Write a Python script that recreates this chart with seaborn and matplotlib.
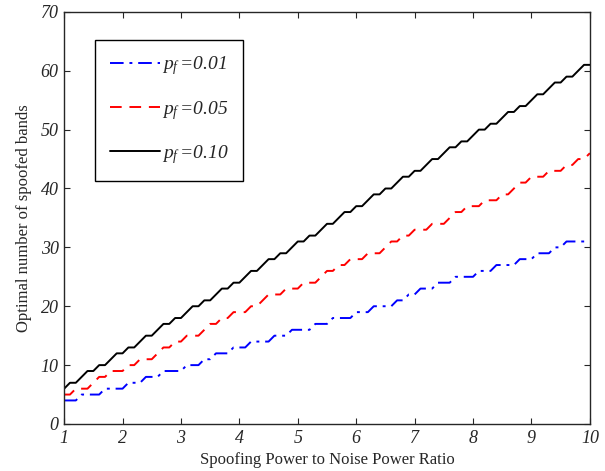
# Optimal number of spoofed bands vs spoofing power to noise power ratio
import numpy as np
import pandas as pd
import seaborn as sns
import matplotlib.pyplot as plt

# x grid (step 0.1 from 1 to 10)
snr = np.round(np.arange(1.0, 10.01, 0.1), 1)

# values, one row per unit of x
bands_001 = [4, 4, 4, 5, 5, 5, 5, 6, 6, 6,
             6, 7, 7, 7, 8, 8, 8, 9, 9, 9,
             9, 10, 10, 10, 11, 11, 12, 12, 12, 13,
             13, 13, 14, 14, 14, 14, 15, 15, 15, 16,
             16, 16, 16, 17, 17, 17, 18, 18, 18, 18,
             19, 19, 19, 20, 20, 20, 20, 21, 21, 22,
             22, 23, 23, 23, 24, 24, 24, 25, 25, 25,
             25, 26, 26, 26, 27, 27, 27, 27, 28, 28,
             28, 29, 29, 29, 30, 30, 31, 31, 31, 31, 31]
bands_005 = [5, 5, 6, 6, 6, 7, 8, 8, 9, 9,
             9, 10, 10, 11, 11, 11, 12, 13, 13, 14,
             14, 15, 15, 15, 16, 17, 17, 18, 18, 19,
             19, 19, 20, 20, 21, 22, 22, 22, 23, 23,
             23, 24, 24, 24, 25, 26, 26, 27, 27, 28,
             28, 28, 29, 29, 29, 30, 31, 31, 32, 32,
             33, 33, 33, 34, 34, 34, 35, 36, 36, 37,
             37, 37, 38, 38, 38, 39, 39, 40, 41, 41,
             42, 42, 42, 43, 43, 43, 44, 44, 45, 45, 46]
bands_010 = [6, 7, 7, 8, 9, 9, 10, 10, 11, 12,
             12, 13, 13, 14, 15, 15, 16, 17, 17, 18,
             18, 19, 20, 20, 21, 21, 22, 23, 23, 24,
             24, 25, 26, 26, 27, 28, 28, 29, 29, 30,
             31, 31, 32, 32, 33, 34, 34, 35, 36, 36,
             37, 37, 38, 39, 39, 40, 40, 41, 42, 42,
             43, 43, 44, 45, 45, 46, 47, 47, 48, 48,
             49, 50, 50, 51, 51, 52, 53, 53, 54, 54,
             55, 56, 56, 57, 58, 58, 59, 59, 60, 61, 61]

labels = [r'$p_f\,$=0.01', r'$p_f\,$=0.05', r'$p_f\,$=0.10']

sns.set_style('ticks')
plt.rcParams['font.family'] = ['Liberation Serif', 'DejaVu Serif']
plt.rcParams['mathtext.fontset'] = 'custom'
plt.rcParams['mathtext.it'] = 'Liberation Serif:italic'
plt.rcParams['mathtext.rm'] = 'Liberation Serif'
plt.rcParams['xtick.direction'] = 'in'
plt.rcParams['ytick.direction'] = 'in'

fig = plt.figure(figsize=(6.05, 4.71), dpi=100)
ax = fig.add_axes([0.106, 0.0998, 0.869, 0.875])

df = pd.DataFrame({'snr': snr, 'p001': bands_001, 'p005': bands_005, 'p010': bands_010})

sns.lineplot(data=df, x='snr', y='p001', ax=ax, color='blue', linewidth=1.4, label=labels[0])
sns.lineplot(data=df, x='snr', y='p005', ax=ax, color='red', linewidth=1.4, label=labels[1])
sns.lineplot(data=df, x='snr', y='p010', ax=ax, color='black', linewidth=1.4, label=labels[2])

lines = ax.get_lines()
lines[0].set_dashes([7, 3, 1.5, 3])
lines[1].set_dashes([6, 4])

ax.set_xlim(1, 10)
ax.set_ylim(0, 70)
ax.set_xticks(range(1, 11))
ax.set_yticks(range(0, 71, 10))
ax.tick_params(top=True, right=True, labelsize=13, length=4, width=0.8, pad=4)
for t in ax.get_xticklabels() + ax.get_yticklabels():
    t.set_fontstyle('italic')
for s in ax.spines.values():
    s.set_linewidth(1.0)
    s.set_visible(True)

ax.set_xlabel('Spoofing Power to Noise Power Ratio', fontsize=12, labelpad=4)
ax.set_ylabel('Optimal number of spoofed bands', fontsize=12, labelpad=6)

leg = ax.legend(loc='upper left', bbox_to_anchor=(0.059, 0.932), fancybox=False,
                edgecolor='black', framealpha=1, handlelength=2.6, handletextpad=0.1,
                labelspacing=1.1, borderpad=0.75, borderaxespad=0,
                prop={'size': 14, 'style': 'italic'})
leg.get_frame().set_linewidth(1.0)
for h in leg.get_lines():
    h.set_linewidth(1.4)

fig.savefig('out.png', dpi=100)
